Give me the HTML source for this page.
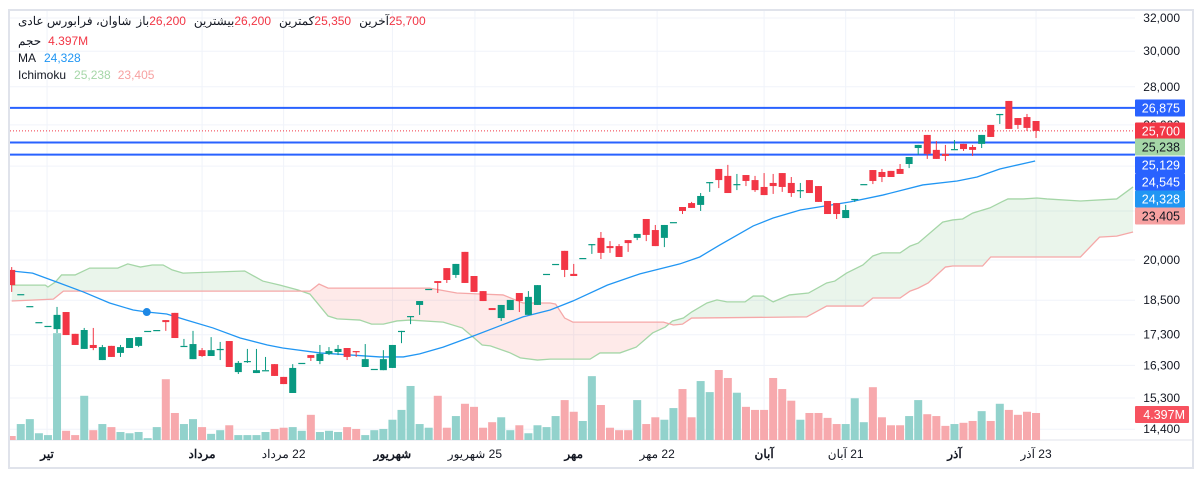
<!DOCTYPE html>
<html><head><meta charset="utf-8">
<style>
html,body{margin:0;padding:0;background:#fff;}
body{width:1203px;height:478px;overflow:hidden;position:relative;font-family:"Liberation Sans","Noto Sans CJK SC",sans-serif;}
#chart{position:absolute;left:0;top:0;}
.hdr{position:absolute;font-size:12px;color:#131722;white-space:nowrap;direction:ltr;}
.hdr span{display:inline-block;unicode-bidi:isolate;}
.red{color:#f23645}.blue{color:#2196f3}.grn{color:#a5d6a7}.pink{color:#f7a1a1}
</style></head>
<body>
<svg id="chart" width="1203" height="478" xmlns="http://www.w3.org/2000/svg"></svg>
<div class="hdr" style="left:18px;top:14px;"><span dir="rtl">شاوان، فرابورس عادی</span><span style="margin-left:5px" dir="rtl">باز</span><span class="red">26,200</span><span style="margin-left:8px" dir="rtl">بیشترین</span><span class="red">26,200</span><span style="margin-left:8px" dir="rtl">کمترین</span><span class="red">25,350</span><span style="margin-left:8px" dir="rtl">آخرین</span><span class="red">25,700</span></div>
<div class="hdr" style="left:18px;top:34px;"><span dir="rtl">حجم</span><span class="red" style="margin-left:7px">4.397M</span></div>
<div class="hdr" style="left:18px;top:51px;"><span>MA</span><span class="blue" style="margin-left:8px">24,328</span></div>
<div class="hdr" style="left:18px;top:68px;"><span>Ichimoku</span><span class="grn" style="margin-left:8px">25,238</span><span class="pink" style="margin-left:7px">23,405</span></div>
<script>
// ---- data ----
const opens  = [19620,18720,18290,17730,17600,17490,18080,17330,16830,16960,16470,16930,16700,16860,16930,17430,17460,17800,18050,16930,16500,16790,16600,16790,17090,16090,16440,16060,16150,16340,15940,15450,16380,16630,16440,16670,16730,16860,16760,16250,16190,16150,16220,17430,17940,18330,18910,19200,19690,19430,20320,19390,18830,18220,17870,18150,18760,17980,18330,19470,19850,20360,19470,20080,20630,20880,20550,20550,20790,20880,21660,21200,20880,21530,22170,22340,22260,23270,23870,23550,23180,23590,23360,23050,23230,23680,23230,22910,23360,23090,22430,22340,21700,22520,23180,23820,23730,23780,23870,24100,24860,25500,24770,24580,24810,25060,24910,25060,26000,26560,27240,26350,26400,26200];
const highs  = [19730,18720,18290,17730,17600,18260,18080,17330,17530,17530,16960,16930,16960,17190,17220,17430,17460,17800,18050,17160,17430,16860,17220,17060,17090,16440,16830,16830,16570,16340,15940,16340,16380,16630,16960,16890,16960,16860,16760,16990,16190,16790,16960,17430,17940,18470,18910,19200,19690,19850,20320,19390,18830,18220,18330,18510,18760,18830,19050,19470,19850,20360,19850,20080,20630,21120,20750,20630,20790,21040,21660,21410,21410,21530,22170,22390,22780,23270,23870,24060,23640,23590,23550,23680,23640,23680,23500,23230,23360,23090,22430,22340,22260,22520,23180,23820,23870,23780,24100,24430,25010,25500,25200,25010,25250,25060,25010,25500,26000,26560,27240,26350,26560,26200];
const lows   = [18800,18720,18290,17730,17600,17360,17290,16960,16830,16790,16470,16570,16570,16860,16890,17430,17460,17430,17190,16930,16500,16570,16600,16470,16250,16030,16380,16060,16150,15970,15720,15450,16380,16440,16340,16630,16630,16470,16570,16250,16190,16150,16220,17020,17660,17980,18910,18760,19130,19320,19130,18800,18470,18150,17770,18150,18080,17980,18330,19470,19850,19350,19390,20080,20240,20040,20280,20120,20320,20790,20750,20550,20510,21530,21870,22130,22000,22830,23000,22780,22910,23090,22830,22690,22740,22830,22610,22560,22780,22390,21870,21660,21700,22390,23180,23180,23270,23500,23640,23910,24530,24340,24340,24240,24810,24720,24480,24860,25400,26050,25800,25800,25700,25350];
const closes = [19050,18720,18290,17730,17600,17980,17290,16960,17460,16860,16890,16570,16890,17190,17220,17430,17460,17730,17190,16930,16990,16600,16790,16830,16250,16380,16440,16150,16150,15970,15720,16220,16380,16540,16670,16760,16830,16570,16730,16500,16190,16500,16960,17430,17940,18470,18910,19130,19240,19850,19130,18800,18470,18150,18330,18510,18470,18620,19050,19470,19850,19620,19390,20080,20630,20280,20470,20120,20670,21040,21000,20550,21410,21530,22000,22130,22650,23270,23360,22780,23180,23320,22910,22690,23090,23050,22780,22910,22780,22390,21870,21870,22040,22520,23180,23320,23500,23500,23640,24430,25010,24580,24340,24480,24810,24810,24770,25500,25400,26560,25800,26000,25850,25700];
const volumes= [0.65,2.6,3.4,1.1,0.8,17.4,1.5,0.8,7.2,1.6,2.6,2.1,1.3,1.1,1.3,0.3,2.1,9.9,4.4,2.6,3.4,2.1,1.0,1.6,2.4,0.8,0.8,0.8,1.3,1.8,2.0,2.1,1.5,4.1,1.3,1.5,1.3,2.1,1.8,0.8,1.6,1.8,3.3,4.9,8.8,2.6,2.0,7.2,2.0,3.9,5.9,5.4,2.0,2.9,3.7,1.6,2.4,1.1,2.4,2.1,3.9,6.5,4.6,3.1,10.4,5.7,2.0,1.6,1.6,6.5,2.6,3.7,3.3,5.2,8.3,3.7,9.6,7.8,11.4,10.1,7.7,5.4,4.9,4.9,10.1,8.3,6.4,3.3,4.4,4.4,3.6,2.6,2.6,6.8,2.9,8.6,3.7,2.4,2.4,3.9,6.5,4.2,3.9,2.3,2.6,2.8,3.1,4.7,3.1,5.9,4.9,4.1,4.6,4.397];
const maIdx  = [0,2.3,5,7.9,10.8,13.4,14.9,17.1,19.3,22.2,25.2,28.2,29.9,34,40.6,43.2,45,47.6,50.6,53.5,56.4,59.4,61.9,65.7,69.3,73.7,75.9,78.1,81.8,84,87,92.5,96.1,100.5,104.3,106.5,109,112.9];
const maVal  = [19580,19500,19160,18800,18400,18150,18080,18010,17800,17530,17190,16960,16860,16700,16570,16570,16670,16890,17220,17560,17910,18150,18470,19050,19470,19850,20120,20590,21370,21700,22040,22390,22690,23140,23320,23500,23870,24240];
const spanAIdx = [0,3.7,4,4.8,5.5,7,8.6,11.7,12.8,14.2,15.5,16.7,17.7,18.9,25.7,27.7,29.6,31.6,32.9,34.9,35.9,38.4,39.7,41,42.5,43.9,47.6,49.7,50.9,51.9,52.8,55,56.1,58,59.4,63.8,64.9,67.1,68.9,70.7,72.1,72.9,74.1,75,76.7,77.8,78.9,80.9,81.8,82.9,84,85.8,87.9,89.9,90.8,92.1,93.9,95,96,98,99.1,100,102.7,103.8,104.9,106,107.9,109.2,109.9,111.6,113.1,114.2,117.9,121.9,123.7];
const spanAVal = [19050,19050,18980,19160,19430,19430,19690,19690,19850,19730,19810,19810,19620,19500,19580,19200,19050,18870,18720,17940,17840,17800,17660,17660,17770,17800,17730,17530,17220,16960,16930,16700,16540,16470,16500,16500,16700,16700,16890,17360,17560,17770,17870,18080,18400,18510,18440,18440,18650,18650,18440,18690,18760,19130,19200,19500,19810,20160,20280,20280,20550,20670,21530,21620,21660,21910,22130,22390,22520,22520,22560,22520,22430,22520,23050];
const spanBIdx = [0,4.6,5.7,32.9,33.9,34.9,46.1,49.1,52,54.2,56.4,59.4,60,61,61.9,71.9,73,74,75,87.7,89.9,93.9,95,98,99.1,100,101.1,103,103.8,107.1,108,117.9,120,121.9,123.7];
const spanBVal = [18470,18540,18830,18830,19090,18940,18940,18760,18720,18690,18400,18400,18360,17870,17730,17730,17630,17660,17870,17910,18290,18290,18580,18580,18830,18940,19130,19730,19770,19770,20120,20120,20910,20950,21120];
const priceTicks = [32000,30000,28000,26000,24000,22000,20000,18500,17300,16300,15300,14400];
const hLevels = [26875,25129,24545];
const lastPrice = 25700;
const timeIdx = [3.9,21,30,42,51.1,62,71.2,83,92,104,113];
const timeLabels = ["تیر","مرداد","22 مرداد","شهریور","25 شهریور","مهر","22 مهر","آبان","21 آبان","آذر","23 آذر"];
const timeBold = [true,true,false,true,false,true,false,true,false,true,false];

// ---- scales ----
const PL=10, PR=1135, PT=11, PB=440;
const X = i => 11.7 + 9.065*i;
const Y = p => 18 + Math.log(32000/p)*515;
const VY = v => PB - v*6.14;
const NS="http://www.w3.org/2000/svg";
const svg=document.getElementById('chart');
function mk(tag, attrs, parent){const e=document.createElementNS(NS,tag);for(const k in attrs)e.setAttribute(k,attrs[k]);(parent||svg).appendChild(e);return e;}
const fmt = n => n.toLocaleString('en-US');

const frame = mk('rect',{x:9,y:10,width:1184,height:458,fill:'none',stroke:'#e0e3eb','stroke-width':2});



const defs = mk('defs',{});
const cp = mk('clipPath',{id:'plotclip'},defs);
mk('rect',{x:PL,y:PT,width:PR-PL,height:PB-PT},cp);

const grid = mk('g',{});


priceTicks.forEach(p=>{
  const l=mk('line',{x1:PL,x2:PR,y1:Y(p),y2:Y(p),stroke:'#f0f3fa','stroke-width':1},grid);
  
  
});
timeIdx.forEach(i=>{
  const l=mk('line',{x1:X(i),x2:X(i),y1:PT,y2:PB,stroke:'#f0f3fa','stroke-width':1},grid);
  
  
});
mk('line',{x1:PL,x2:1193,y1:PB,y2:PB,stroke:'#e0e3eb','stroke-width':1});

const plot = mk('g',{'clip-path':'url(#plotclip)'});



const vg = mk('g',{},plot);


volumes.forEach((v,i)=>{
  const up = closes[i]>=opens[i];
  const r=mk('rect',{x:X(i)-4,y:VY(v),width:8,height:PB-VY(v),fill:up?'#92d2cc':'#f7a9ad'},vg);
  
  
});

function interp(idx,val,t){
  if(t<=idx[0])return val[0];
  for(let k=1;k<idx.length;k++){if(t<=idx[k]){const f=(t-idx[k-1])/(idx[k]-idx[k-1]);return val[k-1]+f*(val[k]-val[k-1]);}}
  return val[val.length-1];
}
const allT=[...new Set([...spanAIdx,...spanBIdx])].sort((a,b)=>a-b);
const ptsA=allT.map(t=>[X(t),Y(interp(spanAIdx,spanAVal,t))]);
const ptsB=allT.map(t=>[X(t),Y(interp(spanBIdx,spanBVal,t))]);
const poly = ptsA.map(p=>p.join(',')).join(' ')+' '+ptsB.slice().reverse().map(p=>p.join(',')).join(' ');
const cpG=mk('clipPath',{id:'aboveB'},defs);
mk('polygon',{points:ptsB.map(p=>p.join(',')).join(' ')+` ${ptsB[ptsB.length-1][0]},0 ${ptsB[0][0]},0`},cpG);
const cpR=mk('clipPath',{id:'belowB'},defs);
mk('polygon',{points:ptsB.map(p=>p.join(',')).join(' ')+` ${ptsB[ptsB.length-1][0]},478 ${ptsB[0][0]},478`},cpR);
const cg=mk('g',{},plot);


const fg=mk('polygon',{points:poly,fill:'rgba(67,160,71,0.11)','clip-path':'url(#aboveB)','fill-rule':'evenodd'},cg);


const fr=mk('polygon',{points:poly,fill:'rgba(244,67,54,0.11)','clip-path':'url(#belowB)','fill-rule':'evenodd'},cg);


const la=mk('polyline',{points:spanAIdx.map((t,k)=>X(t)+','+Y(spanAVal[k])).join(' '),fill:'none',stroke:'#a5d6a7','stroke-width':1.3},cg);


const lb=mk('polyline',{points:spanBIdx.map((t,k)=>X(t)+','+Y(spanBVal[k])).join(' '),fill:'none',stroke:'#f5a8a8','stroke-width':1.3},cg);



const ma=mk('polyline',{points:maIdx.map((t,k)=>X(t)+','+Y(maVal[k])).join(' '),fill:'none',stroke:'#2196f3','stroke-width':1.3},plot);


const dot=mk('circle',{cx:X(14.9),cy:Y(interp(maIdx,maVal,14.9)),r:4,fill:'#1e88e5'},plot);



hLevels.forEach(p=>{
  const l=mk('line',{x1:PL,x2:PR,y1:Y(p),y2:Y(p),stroke:'#2962ff','stroke-width':2},plot);
  
  
});
const lp=mk('line',{x1:PL,x2:PR,y1:Y(lastPrice),y2:Y(lastPrice),stroke:'#f23645','stroke-width':1,'stroke-dasharray':'1,2'},plot);



const cgp=mk('g',{},plot);


opens.forEach((o,i)=>{
  const c=closes[i], up=c>=o, col=up?'#089981':'#f23645', x=X(i);
  const w=mk('line',{x1:x,x2:x,y1:Y(highs[i]),y2:Y(lows[i]),stroke:col,'stroke-width':1},cgp);
  
  
  const yt=Y(Math.max(o,c)), yb=Y(Math.min(o,c));
  const b=mk('rect',{x:x-3.5,y:yt,width:7,height:Math.max(1.2,yb-yt),fill:col},cgp);
  
  
});

const ax=mk('g',{'font-size':12,fill:'#131722','font-family':'Liberation Sans, sans-serif'});


priceTicks.forEach(p=>{
  const t=mk('text',{x:1180,y:Y(p)+4,'text-anchor':'end'},ax);
  t.textContent=fmt(p);
  
  
});
const badges=[["26,875",108,'#2962ff','#fff'],["25,700",131,'#f23645','#fff'],["25,238",147,'#a5d6a7','#131722'],["25,129",165,'#2962ff','#fff'],["24,545",182,'#2962ff','#fff'],["24,328",199,'#2196f3','#fff'],["23,405",216,'#f7a1a1','#131722']];
badges.forEach(b=>{
  const g=mk('g',{},ax);
  
  
  mk('rect',{x:1135,y:b[1]-8.5,width:50,height:17,fill:b[2],rx:1},g);
  const t=mk('text',{x:1180,y:b[1]+4.5,'text-anchor':'end',fill:b[3],'font-size':12.5},g);
  t.textContent=b[0];
});
const vb=mk('g',{},ax);


mk('rect',{x:1135,y:406,width:54,height:17,fill:'#f7525f',rx:1},vb);
const vbt=mk('text',{x:1185,y:419,'text-anchor':'end',fill:'#fff','font-size':12.5},vb);
vbt.textContent='4.397M';

const tx=mk('g',{'font-size':12,fill:'#131722','font-family':'Liberation Sans, Noto Sans CJK SC, sans-serif'});


timeIdx.forEach((t,k)=>{
  const e=mk('text',{x:X(t),y:458,'text-anchor':'middle','font-weight':timeBold[k]?'bold':'normal',direction:'rtl'},tx);
  e.textContent=timeLabels[k];
  
  
});
</script>
</body></html>
